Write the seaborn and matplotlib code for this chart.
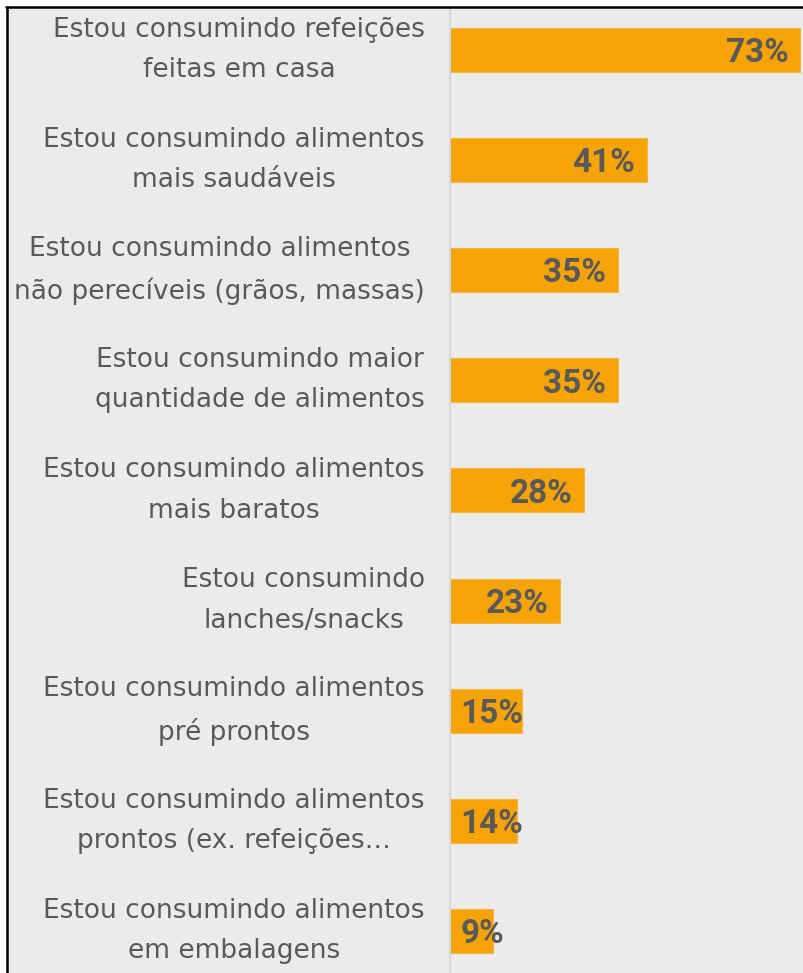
import matplotlib
matplotlib.use("Agg")
import matplotlib.pyplot as plt
from matplotlib.lines import Line2D
from matplotlib.patches import Rectangle
import seaborn as sns

labels = [
    "Estou consumindo refeições\nfeitas em casa",
    "Estou consumindo alimentos\nmais saudáveis",
    "Estou consumindo alimentos\nnão perecíveis (grãos, massas)",
    "Estou consumindo maior\nquantidade de alimentos",
    "Estou consumindo alimentos\nmais baratos",
    "Estou consumindo\nlanches/snacks",
    "Estou consumindo alimentos\npré prontos",
    "Estou consumindo alimentos\nprontos (ex. refeições…",
    "Estou consumindo alimentos\nem embalagens",
]
values = [73, 41, 35, 35, 28, 23, 15, 14, 9]

bar_color = "#f5a306"
text_color = "#595959"
bg = "#ebebeb"

sns.set_style("white")
plt.rcParams["font.family"] = ["DejaVu Sans"]

W, H = 804, 973
fig = plt.figure(figsize=(W / 100, H / 100), dpi=100, facecolor=bg)

# white margin + black frame on top / left (screenshot crop)
fig.patches.append(Rectangle((0, 1 - 6 / H), 1, 6 / H, transform=fig.transFigure,
                             color="white", zorder=0))
fig.patches.append(Rectangle((0, 0), 6 / W, 1, transform=fig.transFigure,
                             color="white", zorder=0))
fig.add_artist(Line2D([6.5 / W, 1], [1 - 7 / H, 1 - 7 / H], transform=fig.transFigure,
                      color="black", lw=1.8))
fig.add_artist(Line2D([7 / W, 7 / W], [0, 1 - 7 / H], transform=fig.transFigure,
                      color="black", lw=1.8))

ax = fig.add_axes([450 / W, 0, 354 / W, 1 - 8 / H])
ax.patch.set_visible(False)

sns.barplot(x=values, y=labels, orient="h", color=bar_color, width=0.4,
            saturation=1, edgecolor="#f6b443", linewidth=0.8, ax=ax)

ax.set_xlim(0, 73.8)
ax.set_ylim(8.381, -0.38)
ax.set_xticks([])
ax.set_xlabel("")
ax.set_ylabel("")
for s in ["top", "right", "bottom"]:
    ax.spines[s].set_visible(False)
ax.spines["left"].set_color("#d6d6d6")
ax.spines["left"].set_linewidth(1.5)

ax.tick_params(axis="y", length=0, pad=18, labelsize=19, labelcolor=text_color)
for t in ax.get_yticklabels():
    t.set_multialignment("center")
    t.set_verticalalignment("center")
    t.set_linespacing(1.72)

# value labels: inside end, or from the bar start when the bar is short
val_font = dict(fontsize=24, fontweight="bold", color=text_color,
                family=["Roboto", "DejaVu Sans"])
for i, v in enumerate(values):
    if v < 20:
        ax.text(2.2, i + 0.03, f"{v}%", ha="left", va="center", **val_font)
    else:
        ax.text(v - 2.4, i + 0.03, f"{v}%", ha="right", va="center", **val_font)

fig.savefig("out.png", dpi=100, facecolor=bg)
